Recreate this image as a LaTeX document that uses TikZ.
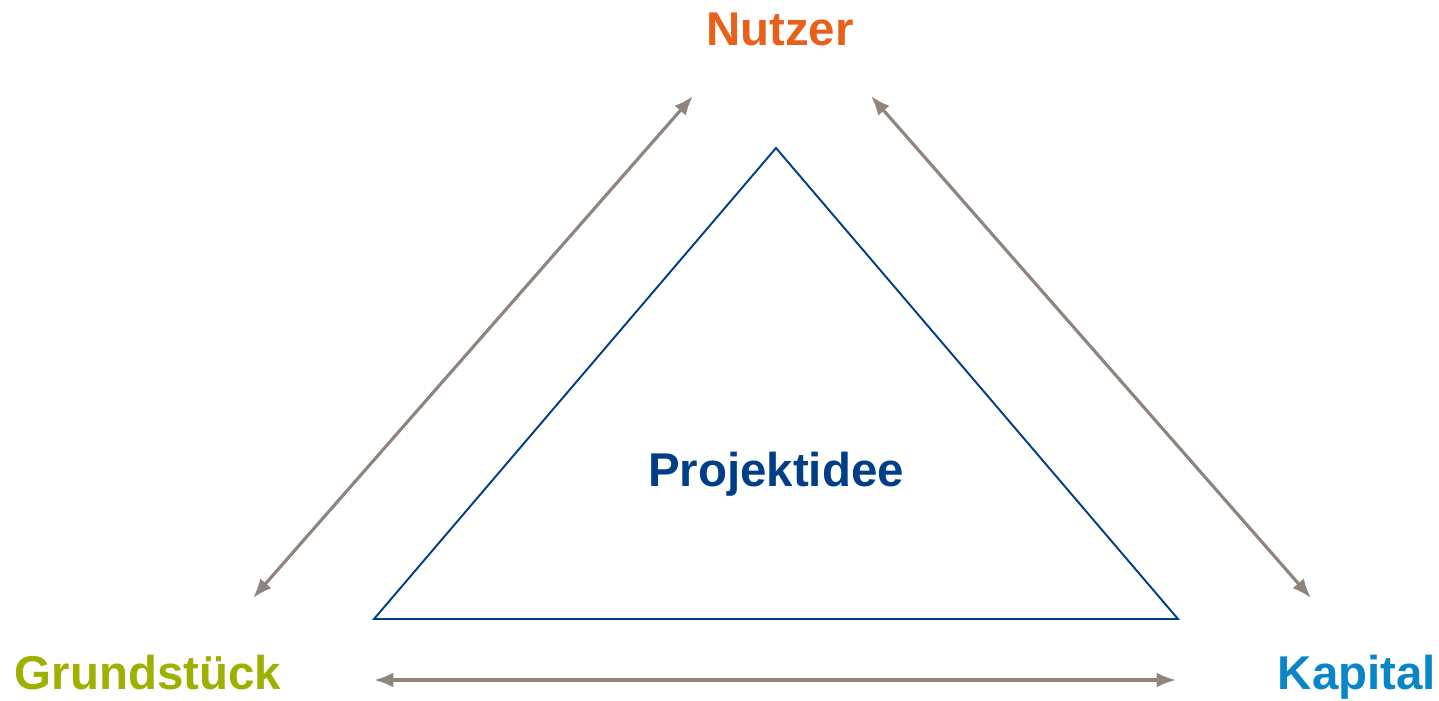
\documentclass[tikz,border=0pt]{standalone}
\usepackage{fontspec}
\setmainfont{Liberation Sans}
\usepackage{xcolor}
\usetikzlibrary{arrows.meta}
\definecolor{UserOrange}{RGB}{232,97,26}
\definecolor{PlotGreen}{RGB}{158,176,0}
\definecolor{CapitalBlue}{RGB}{10,134,200}
\definecolor{IdeaBlue}{RGB}{0,63,135}
\definecolor{LinkGray}{RGB}{143,132,126}

\begin{document}
\begin{tikzpicture}[x=0.02cm, y=-0.02cm,
		>={Latex[length=11pt,width=8.5pt]},
		corner/.style={anchor=base, font=\fontsize{27}{32}\selectfont\bfseries},
		link/.style={<->, line width=1.8pt, LinkGray}]
		
		\useasboundingbox (0,0) rectangle (1439,700);
		
		% project triangle
		\draw[line width=1.1pt, IdeaBlue, line join=miter] (776,148) -- (374,619) -- (1178,619) -- cycle;
		\node[corner, IdeaBlue] (idea) at (776,486) {Projektidee};
		
		% corners
		\node[corner, UserOrange] (user) at (780,45) {Nutzer};
		\node[corner, PlotGreen] (plot) at (148,689) {Grundstück};
		\node[corner, CapitalBlue] (capital) at (1357,689) {Kapital};
		
		% arrow ends
		\coordinate (userL) at (693,96);
		\coordinate (userR) at (871,96);
		\coordinate (plotT) at (253,598);
		\coordinate (plotR) at (374,680);
		\coordinate (capT) at (1311,598);
		\coordinate (capL) at (1176,680);
		
		% links
		\draw[link] (plotT) -- (userL);
		\draw[link] (userR) -- (capT);
		\draw[link] (plotR) -- (capL);
		
	\end{tikzpicture}
\end{document}
